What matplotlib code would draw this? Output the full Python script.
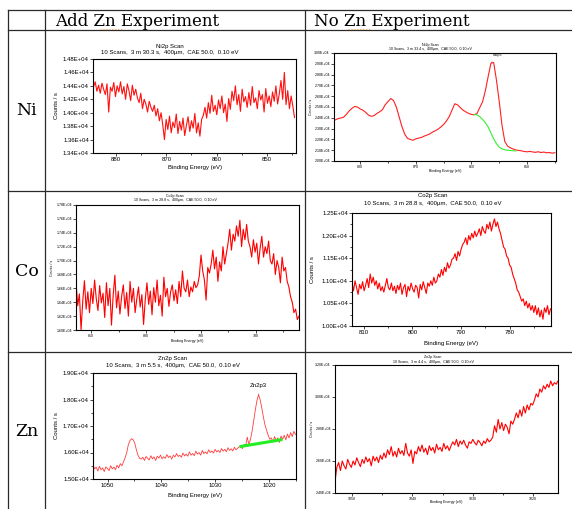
import numpy as np
import matplotlib.pyplot as plt
from matplotlib.ticker import MultipleLocator, FuncFormatter

plt.rcParams['font.family'] = ['Liberation Sans', 'DejaVu Sans']

# ---------------- data (counts / s) ----------------
# Ni2p, Zn added
ni_add_span = (884.5, 844.5)
ni_add_counts = [
    14380, 14460, 14320, 14410, 14290, 14440, 14350, 14270, 14430, 14010,
    14380, 14320, 14450, 14240, 14400, 14310, 14460, 14280, 14390, 14200,
    14430, 14330, 14180, 14410, 14260, 14350,
    14220, 14150, 14290, 14060, 14200, 14130, 14010, 14170, 14080,
    14020, 14110, 13950, 14060, 13880, 14000,
    13820, 13600, 13900, 13750, 13950, 13700, 13860, 13780, 13980, 13690,
    13870, 13740, 13920, 13660, 13810, 13940, 13720, 13880, 13770, 13990,
    13700, 13850, 13650, 13900,
    13960, 14080, 13920, 14150, 13990, 14260, 14020, 14110, 13970, 14190,
    14060, 14250, 14000, 14130, 13870,
    14210, 14050, 14320, 14180, 14400, 14120, 14270, 14020, 14350, 14160,
    14240, 14080, 14300, 14110, 14390, 14150, 14220, 14060, 14330, 14190,
    14270, 14010, 14360, 14140, 14250, 14090, 14310, 14170, 14400, 14130,
    14280, 14480, 14200, 14600, 14120, 14330, 14060, 14250, 14100, 13930]

# Ni2p, no Zn
ni_no_span = (884.5, 845.0)
ni_no_counts = [
    23800, 23920, 23980, 24050, 24300, 24620, 24860, 25050, 25000, 24820,
    24700, 24500, 24250, 24140, 24200, 24400, 24550, 24750, 25200, 25500,
    25780, 25600, 25000, 24100, 23200, 22500, 22100, 22000, 21920, 22050,
    22120, 22180, 22300, 22400, 22500, 22680, 22800, 22950, 23150, 23380,
    23700, 24100, 24700, 25300, 25200, 24950, 24700, 24550, 24400, 24310,
    24280, 24400, 24950, 25480, 26500, 27800, 29050, 29120, 27480, 25500,
    23300, 21800, 21380, 21220, 21110, 21020, 20980, 20940, 20880, 20850,
    20890, 20840, 20800, 20860, 20780, 20830, 20760, 20790, 20720, 20770]
ni_no_bg_span = (859.5, 852.0)
ni_no_bg = [24310, 24280, 24100, 23850, 23550, 23150, 22600, 22050,
            21600, 21280, 21120, 21040, 21000, 20970, 20950, 20930]

# Co2p, Zn added
co_add_span = (812.8, 772.1)
co_add_counts = [
    16700, 16350, 16520, 16000, 16420, 16710, 16300, 16550, 16250, 16600,
    16380, 16720, 16450, 16280, 16640, 16390, 16530, 16180, 16680, 16350,
    16600, 16070, 16500, 16790, 16320, 16560, 16230, 16480, 16650, 16310,
    16540, 16200, 16700, 16400, 16600, 16250, 16450, 16620, 16330, 16510,
    16080, 16440, 16680, 16370, 16560, 16220, 16610, 16400, 16720, 16350,
    16500, 16200, 16760, 16480, 16600, 16340, 16550, 16650, 16420, 16580,
    16380, 16700, 16480, 16850, 16600,
    16550, 16720, 16480, 16620, 16550, 16700, 16610, 16650,
    16780, 17080, 16850, 16720, 16430, 16900, 16820,
    16950, 17150, 16880, 17050, 16700, 16980, 16850, 17200, 16950, 17100,
    17250, 17450, 17150, 17380, 17280, 17500, 17350, 17580, 17200, 17450,
    17300, 17520, 17280,
    17200, 17050, 17300, 17120, 17250, 16950, 17180, 17350, 17050, 17200,
    17100, 17280, 17000,
    16950, 17100, 16800, 17000, 16900, 16680, 17050, 16850, 16900, 16700,
    16620, 16480, 16400, 16250, 16300, 16150, 16200]

# Co2p, no Zn
co_no_span = (812.4, 771.6)
co_no_counts = [
    10950, 10780, 11000, 10850, 10700, 10920, 10820, 10980, 10780, 10900,
    11050, 10850, 11150, 10950, 11080, 10900,
    11000, 10820, 10950, 10780, 10870, 10750, 10900, 11050, 10850, 10800,
    10950, 10780, 10880, 10720, 10900,
    10800, 10950, 10700, 10850, 10920, 10650, 10880, 10780, 10950, 10820,
    10750, 10900, 10850, 10620, 10920, 10800, 10980, 10850, 10720, 10950,
    10880, 11000, 10900, 11080, 10950,
    11000, 11150, 11080, 11250, 11120, 11300, 11200, 11400, 11280, 11350, 11480,
    11500, 11600, 11450, 11650, 11550, 11700, 11800,
    11850, 11950, 11800, 12000, 11900, 12050, 11950, 12100, 11980,
    12050, 12150, 12000, 12200, 12100, 12050, 12250, 12150, 12300, 12100,
    12250, 12370, 12200,
    12300, 12150, 12050, 11900,
    11750, 11700, 11550, 11500, 11350, 11300,
    11150, 11050, 10950, 10800, 10750, 10650, 10550,
    10600, 10450, 10550, 10400, 10500, 10350, 10450,
    10300, 10450, 10250, 10400, 10200, 10350, 10150, 10400, 10300, 10450,
    10250, 10380]

# Zn2p, Zn added
zn_add_span = (1052.7, 1015.1)
zn_add_counts = [
    15550, 15380, 15450, 15300, 15480, 15350, 15420, 15280, 15460, 15390,
    15320, 15500, 15380, 15450, 15350, 15520, 15420, 15580, 15500,
    15650, 15800, 16000, 16300, 16450, 16520,
    16480, 16350, 16100, 15900, 15780,
    15750, 15820, 15700, 15850, 15780, 15720, 15880, 15760, 15830, 15700,
    15860, 15790, 15900, 15760, 15840, 15780, 15920, 15810, 15870, 15750,
    15900, 15830, 15960, 15850, 15900, 15820, 15980, 15870, 15940, 15860,
    16020, 15900, 15960, 15880, 16050, 15940, 16000, 15900, 16080, 15960,
    16020, 15950, 16100, 16000, 16060, 15980, 16120, 16020, 16080, 16000,
    16150, 16050, 16120, 16030, 16180, 16080, 16140, 16060, 16200, 16100,
    16160, 16220,
    16200, 16150, 16300, 16250, 16580,
    16300, 16500, 16800, 17200, 17600, 17950, 18180,
    18000, 17700, 17350, 17050,
    16850, 16650, 16500,
    16550, 16400, 16600, 16450, 16550, 16380, 16620, 16500, 16650, 16480,
    16700, 16550, 16750, 16600, 16800, 16680]
zn_add_bg_x = [1025.2, 1017.8]
zn_add_bg = [16230, 16480]

# Zn2p, no Zn
zn_no_span = (1052.8, 1015.9)
zn_no_counts = [
    24700, 25600, 25900, 25400, 26000, 25700, 25500, 26100, 25800, 25600,
    26000, 25750, 26200, 25900, 25650, 26100, 25850, 26250, 25950, 26150,
    25700, 26300, 26000, 26250, 25900, 26350, 26100,
    26500, 26200, 26700, 26400, 26900, 26300, 26600, 26250, 26800, 26450,
    26650, 26350, 27100, 26500, 26300, 26700, 25850, 26600, 26450, 26900,
    26600, 27000, 26550, 26800, 26400, 26950, 26650, 26850, 26500, 27050,
    26700, 26850, 26600, 27100, 26750, 26950, 26650,
    26950, 27200, 27000, 27350, 26900, 27250, 27050, 27300, 27000, 26800,
    27200, 27100, 27350, 27150, 27000, 27300, 27150, 26950, 27250, 27100,
    27400, 27200, 27300, 27500,
    28200, 27800, 28600, 28000, 28400, 27900, 28300, 28100, 27700, 28500, 28300,
    28600, 29000, 28700, 29200, 28800, 29400, 29000, 29500, 29200, 29600, 29500,
    29800, 30200, 30000, 30500, 30300, 30700, 30500, 30800, 30600, 31000,
    30700, 30900, 30800, 31000]

# ---------------- figure ----------------
W, H = 572, 509
fig = plt.figure(figsize=(W / 100, H / 100), dpi=100)
bg = fig.add_axes([0, 0, 1, 1])
bg.set_xlim(0, W)
bg.set_ylim(H, 0)
bg.axis('off')

# table grid
lc = '#2a2a2a'
for yy in [10, 30, 191, 352]:
    bg.plot([8, W], [yy, yy], color=lc, lw=0.9)
for xx in [8, 45, 305]:
    bg.plot([xx, xx], [10, H], color=lc, lw=0.9)

serif = ['DejaVu Serif']
bg.text(55, 21, 'Add Zn Experiment', family=serif, fontsize=12, va='center')
bg.text(314, 21, 'No Zn Experiment', family=serif, fontsize=12, va='center')
bg.plot([100, 122], [28.5, 28.5], color='#f0a050', lw=0.8, ls=':')
bg.plot([348, 371], [28.5, 28.5], color='#f0a050', lw=0.8, ls=':')
for lab, yy in [('Ni', 110), ('Co', 271), ('Zn', 432)]:
    bg.text(27, yy, lab, family=serif, fontsize=12.5, ha='center', va='center')


def sci(v, pos):
    return '%.2E' % v


def panel(box, xlim, ylim, ystep, fs, title, sub, tx, ty1, ty2, xl_y, yl_x, yminor=None):
    l, t, r, b = box
    ax = fig.add_axes([l / W, 1 - b / H, (r - l) / W, (b - t) / H])
    ax.set_xlim(xlim)
    ax.set_ylim(ylim)
    ax.xaxis.set_major_locator(MultipleLocator(10))
    ax.xaxis.set_minor_locator(MultipleLocator(5))
    ax.yaxis.set_major_locator(MultipleLocator(ystep))
    if yminor:
        ax.yaxis.set_minor_locator(MultipleLocator(yminor))
    ax.yaxis.set_major_formatter(FuncFormatter(sci))
    ax.tick_params(which='both', direction='out', length=2, width=0.5,
                   labelsize=fs, pad=1)
    ax.tick_params(which='minor', length=1.5)
    for s in ax.spines.values():
        s.set_linewidth(0.8)
    bg.text(tx, ty1, title, ha='center', va='center', fontsize=fs)
    bg.text(tx, ty2, sub, ha='center', va='center', fontsize=fs)
    bg.text((l + r) / 2, xl_y, 'Binding Energy (eV)', ha='center', va='center', fontsize=fs)
    bg.text(yl_x, (t + b) / 2, 'Counts / s', rotation=90, ha='center', va='center', fontsize=fs)
    return ax


def energy(span, vals):
    return np.linspace(span[0], span[1], len(vals))


# Ni, Zn added
ax = panel((93, 59, 296, 153), (884.6, 844.2), (13400, 14800), 200, 4.3,
           'Ni2p Scan', '10 Scans,  3 m 30.3 s,  400µm,  CAE 50.0,  0.10 eV',
           170, 46, 52.5, 167, 56)
ax.plot(energy(ni_add_span, ni_add_counts), ni_add_counts, color='#ff1010', lw=0.8)

# Ni, no Zn
ax = panel((334, 53, 556, 161), (884.7, 844.8), (20000, 30000), 1000, 2.6,
           'Ni2p Scan', '10 Scans,  3 m 33.4 s,  400µm,  CAE 50.0,  0.10 eV',
           430, 45, 48.6, 171, 311)
ax.plot(energy(ni_no_span, ni_no_counts), ni_no_counts, color='#ff2020', lw=0.8)
ax.plot(energy(ni_no_bg_span, ni_no_bg), ni_no_bg, color='#33ee33', lw=0.8)
ax.annotate('Ni2p3', xy=(856.4, 29120), xytext=(855.4, 29850), fontsize=2.6,
            ha='center', va='center',
            arrowprops=dict(arrowstyle='-', lw=0.4, color='#333333'))

# Co, Zn added
ax = panel((76, 205, 299, 330), (812.8, 772.1), (16000, 17800), 200, 2.6,
           'Co2p Scan', '10 Scans,  3 m 28.8 s,  400µm,  CAE 50.0,  0.10 eV',
           175, 195.7, 199.7, 341, 52)
ax.plot(energy(co_add_span, co_add_counts), co_add_counts, color='#ff0000', lw=0.8)

# Co, no Zn
ax = panel((352, 213, 551, 326), (812.4, 771.5), (10000, 12500), 500, 4.3,
           'Co2p Scan', '10 Scans,  3 m 28.8 s,  400µm,  CAE 50.0,  0.10 eV',
           433, 196, 203.3, 344, 313, yminor=250)
ax.plot(energy(co_no_span, co_no_counts), co_no_counts, color='#ff0000', lw=0.8)

# Zn, Zn added
ax = panel((93, 373, 296, 479), (1052.7, 1015.0), (15000, 19000), 1000, 4.3,
           'Zn2p Scan', '10 Scans,  3 m 5.5 s,  400µm,  CAE 50.0,  0.10 eV',
           173, 358.5, 365.7, 496, 56, yminor=500)
ax.plot(energy(zn_add_span, zn_add_counts), zn_add_counts, color='#ff3c3c', lw=0.6)
ax.plot(zn_add_bg_x, zn_add_bg, color='#22ee22', lw=2.2)
ax.annotate('Zn2p3', xy=(1021.9, 18180), xytext=(1022.0, 18520), fontsize=4.3,
            ha='center', va='center',
            arrowprops=dict(arrowstyle='-', lw=0.4, color='#555555'))

# Zn, no Zn
ax = panel((335, 365, 558, 493), (1052.8, 1015.9), (24000, 32000), 2000, 2.6,
           'Zn2p Scan', '10 Scans,  3 m 4.4 s,  400µm,  CAE 50.0,  0.10 eV',
           433, 357.3, 361.7, 502.3, 312)
ax.plot(energy(zn_no_span, zn_no_counts), zn_no_counts, color='#ff0000', lw=0.8)

fig.savefig('out.png', dpi=100)
